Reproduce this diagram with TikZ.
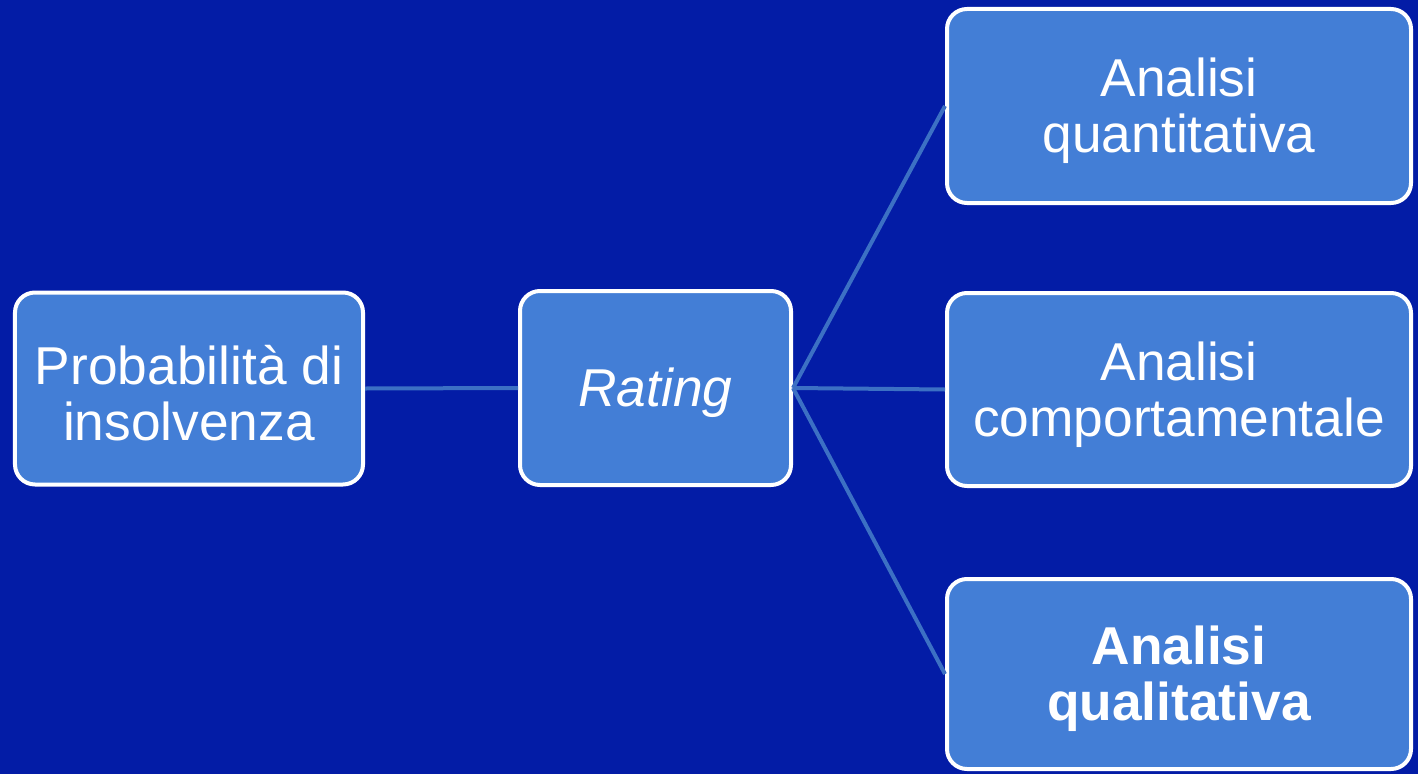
\documentclass[tikz,border=0pt]{standalone}
\usepackage{fontspec}
\setmainfont{Liberation Sans}
\definecolor{bgblue}{HTML}{031CA6}
\definecolor{boxblue}{HTML}{437ED6}
\definecolor{linkblue}{HTML}{3C70C4}
\begin{document}
\begin{tikzpicture}[x=1bp,y=-1bp,
  box/.style={draw=white, line width=4bp, fill=boxblue, rounded corners=20bp, inner sep=0pt},
  txt/.style={text=white, align=center, inner sep=0pt, yshift=-5bp,
    font=\fontsize{53.5}{56}\selectfont},
  link/.style={draw=linkblue, line width=4bp}]
\fill[bgblue] (0,0) rectangle (1418,774);
\useasboundingbox (0,0) rectangle (1418,774);
\node[box, minimum width=348bp, minimum height=192bp,
  label={[txt]center:Probabilità di\\insolvenza}] (p) at (189,388.5) {};
\node[box, minimum width=271bp, minimum height=194bp,
  label={[txt, font=\fontsize{53.5}{56}\selectfont\itshape]center:Rating}] (r) at (655.5,388) {};
\node[box, minimum width=464bp, minimum height=194bp,
  label={[txt]center:Analisi\\quantitativa}] (q) at (1179,106) {};
\node[box, minimum width=464bp, minimum height=193bp,
  label={[txt]center:Analisi\\comportamentale}] (c) at (1179,389.5) {};
\node[box, minimum width=464bp, minimum height=190bp,
  label={[txt, font=\fontsize{53.5}{56}\selectfont\bfseries]center:Analisi\\qualitativa}] (l) at (1179,674) {};
\draw[link] (p.east) -- (r.west);
\draw[link] (r.east) -- (q.west);
\draw[link] (r.east) -- (c.west);
\draw[link] (r.east) -- (l.west);
\end{tikzpicture}
\end{document}
